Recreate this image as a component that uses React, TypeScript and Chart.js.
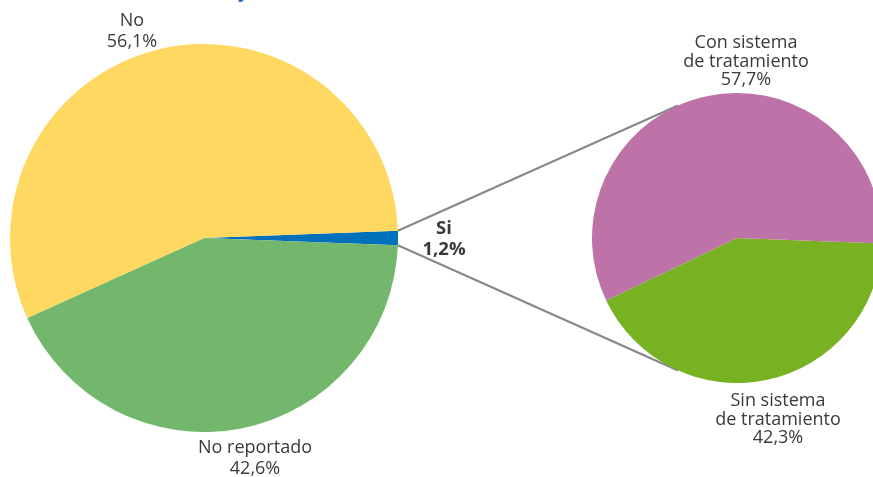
import React, { useEffect, useRef } from "react";
import { Chart, registerables } from "chart.js";

Chart.register(...registerables);

const mainLabels = ["Si", "No reportado", "No"];
const mainValues = [1.2, 42.6, 56.1];
const mainColors = ["#0070BA", "#73B76D", "#FFD862"];

const subLabels = ["Sin sistema de tratamiento", "Con sistema de tratamiento"];
const subValues = [42.3, 57.7];
const subColors = ["#78B121", "#BE73A8"];

const FONT = "'Open Sans', Lato, sans-serif";
const TEXT = "#3a3a3a";

const W = 873;
const H = 477;

// right pie geometry (layout)
const SUB_LEFT = 592;
const SUB_TOP = 93;
const SUB_SIZE = 290;

const fmt = (v: number) => v.toFixed(1).replace(".", ",") + "%";

export default function App() {
  const mainRef = useRef<HTMLCanvasElement>(null);
  const subRef = useRef<HTMLCanvasElement>(null);

  useEffect(() => {
    const drawLines = (
      ctx: CanvasRenderingContext2D,
      lines: string[],
      x: number,
      y: number,
      lh: number,
      font: string
    ) => {
      ctx.save();
      ctx.fillStyle = TEXT;
      ctx.font = font;
      ctx.textAlign = "center";
      ctx.textBaseline = "alphabetic";
      lines.forEach((l, i) => ctx.fillText(l, x, y + i * lh));
      ctx.restore();
    };

    const mainPlugin = {
      id: "mainDecor",
      afterDraw(chart: any) {
        const ctx = chart.ctx as CanvasRenderingContext2D;
        const meta = chart.getDatasetMeta(0);
        const si = meta.data[0];
        const cx = si.x, cy = si.y, r = si.outerRadius;
        const p1 = { x: cx + r * Math.cos(si.startAngle), y: cy + r * Math.sin(si.startAngle) };
        const p2 = { x: cx + r * Math.cos(si.endAngle), y: cy + r * Math.sin(si.endAngle) };
        const sr = SUB_SIZE / 2;
        const scx = SUB_LEFT + sr, scy = SUB_TOP + sr;
        const a = (114 * Math.PI) / 180;
        const q1 = { x: scx + sr * Math.cos(-a), y: scy + sr * Math.sin(-a) };
        const q2 = { x: scx + sr * Math.cos(a), y: scy + sr * Math.sin(a) };
        ctx.save();
        ctx.strokeStyle = "#888888";
        ctx.lineWidth = 2.2;
        ctx.beginPath();
        ctx.moveTo(p1.x, p1.y);
        ctx.lineTo(q1.x, q1.y);
        ctx.moveTo(p2.x, p2.y);
        ctx.lineTo(q2.x, q2.y);
        ctx.stroke();
        ctx.restore();

        // cut-off title fragment at the top edge
        ctx.save();
        ctx.fillStyle = "#2E6DB4";
        ctx.font = `bold 18px ${FONT}`;
        ctx.textAlign = "center";
        ctx.fillText("y", 243, -2);
        ctx.restore();

        const reg = `18px ${FONT}`;
        drawLines(ctx, [mainLabels[2], fmt(mainValues[2])], 132, 26, 21, reg);
        drawLines(ctx, [mainLabels[1], fmt(mainValues[1])], 255, 453, 21, reg);
        drawLines(ctx, [mainLabels[0], fmt(mainValues[0])], 444, 234, 21, `bold 18.5px ${FONT}`);
        drawLines(ctx, ["Con sistema", "de tratamiento", fmt(subValues[1])], 746, 48, 18.5, reg);
        drawLines(ctx, ["Sin sistema", "de tratamiento", fmt(subValues[0])], 778, 406, 18.5, reg);
      },
    };

    const main = new Chart(mainRef.current!, {
      type: "pie",
      data: {
        labels: mainLabels,
        datasets: [{ data: mainValues, backgroundColor: mainColors, borderWidth: 0 }],
      },
      options: {
        responsive: false,
        animation: false,
        rotation: 87.84,
        layout: { padding: { left: 10, right: W - 398, top: 44, bottom: H - 432 } },
        plugins: { legend: { display: false }, tooltip: { enabled: false } },
      },
      plugins: [mainPlugin],
    });

    const sub = new Chart(subRef.current!, {
      type: "pie",
      data: {
        labels: subLabels,
        datasets: [{ data: subValues, backgroundColor: subColors, borderWidth: 0 }],
      },
      options: {
        responsive: false,
        animation: false,
        rotation: 92.2,
        layout: { padding: 0 },
        plugins: { legend: { display: false }, tooltip: { enabled: false } },
      },
    });

    return () => {
      main.destroy();
      sub.destroy();
    };
  }, []);

  return (
    <div style={{ position: "fixed", left: 0, top: 0, width: W, height: H, overflow: "hidden", background: "#fff" }}>
      <canvas ref={mainRef} width={W} height={H} style={{ position: "absolute", left: 0, top: 0 }} />
      <canvas
        ref={subRef}
        width={SUB_SIZE}
        height={SUB_SIZE}
        style={{ position: "absolute", left: SUB_LEFT, top: SUB_TOP }}
      />
    </div>
  );
}
